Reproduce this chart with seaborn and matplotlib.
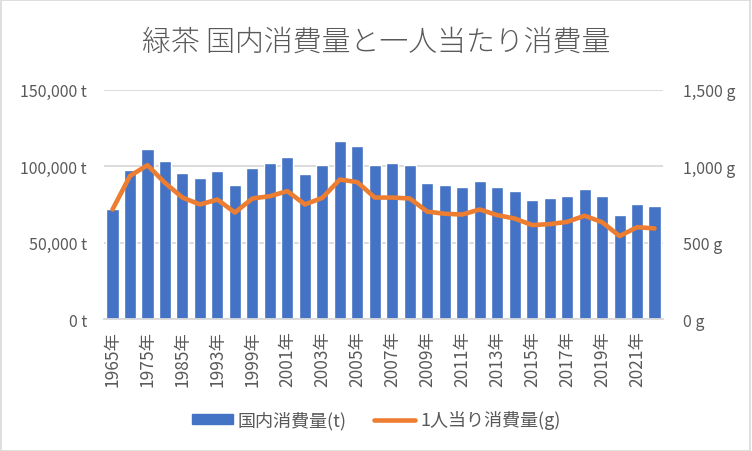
import numpy as np
import pandas as pd
import matplotlib
matplotlib.use("Agg")
import matplotlib.pyplot as plt
import seaborn as sns
from matplotlib.lines import Line2D
from matplotlib.patches import Patch, Rectangle
from matplotlib.ticker import FuncFormatter

# data
years = [1965, 1970, 1975, 1980, 1985, 1990, 1993, 1996,
         1999, 2000, 2001, 2002, 2003, 2004, 2005, 2006, 2007, 2008,
         2009, 2010, 2011, 2012, 2013, 2014, 2015, 2016, 2017, 2018,
         2019, 2020, 2021, 2022]
volume_t = [71700, 97800, 111600, 103700, 95900, 92600, 97200, 88000,
            99100, 102400, 106300, 94600, 101100, 116800, 113500, 101100, 101800, 100500,
            89300, 88000, 86700, 90600, 86100, 84100, 78200, 79500, 80800, 85400,
            80800, 67800, 75000, 73700]
per_capita_g = [717, 937, 1007, 891, 795, 750, 782, 697,
                789, 804, 837, 750, 793, 913, 896, 795, 795, 789,
                703, 689, 684, 717, 680, 658, 615, 621, 636, 676,
                634, 543, 601, 593]

title = "緑茶 国内消費量と一人当たり消費量"
bar_label = "国内消費量(t)"
line_label = "1人当り消費量(g)"

BLUE = "#4472C4"
ORANGE = "#ED7D31"
GRID = "#D9D9D9"
TEXT = "#595959"

sns.set_theme(style="white")
plt.rcParams["font.family"] = ["Noto Sans CJK JP", "DejaVu Sans"]

df = pd.DataFrame({
    "year": [f"{y}年" for y in years],
    "volume": volume_t,
    "per_capita": per_capita_g,
})

fig = plt.figure(figsize=(7.52, 4.52), dpi=100)
ax = fig.add_axes([0.138, 0.292, 0.744, 0.507])

sns.barplot(data=df, x="year", y="volume", color=BLUE, saturation=1,
            width=0.69, ax=ax, zorder=2)
ax.set_ylim(0, 150000)
ax.set_yticks([0, 50000, 100000, 150000])
ax.yaxis.set_major_formatter(FuncFormatter(lambda v, _: f"{int(v):,} t"))
ax.grid(axis="y", color=GRID, linewidth=1.3, zorder=0)
ax.set_axisbelow(True)
ax.set_xlabel("")
ax.set_ylabel("")

pos = np.arange(len(years))
ax.set_xticks(pos[::2])
ax.set_xticklabels(df["year"][::2], rotation=90)
ax.set_xlim(-0.5, len(years) - 0.5)

ax2 = ax.twinx()
sns.lineplot(x=pos, y=df["per_capita"], color=ORANGE, linewidth=3.3, ax=ax2)
ax2.set_ylim(0, 1500)
ax2.set_yticks([0, 500, 1000, 1500])
ax2.yaxis.set_major_formatter(FuncFormatter(lambda v, _: f"{int(v):,} g"))
ax2.set_ylabel("")

for a in (ax, ax2):
    for s in a.spines.values():
        s.set_visible(False)
    a.tick_params(length=0, colors=TEXT, labelsize=11.5)
ax.spines["bottom"].set_visible(True)
ax.spines["bottom"].set_color(GRID)
ax.spines["bottom"].set_linewidth(1.3)
ax.tick_params(axis="y", pad=12)
ax.tick_params(axis="x", pad=8, labelsize=12.5)
ax2.tick_params(axis="y", pad=14)

fig.text(0.5, 1 - 42 / 452, title, ha="center", va="center",
         fontsize=20.8, color=TEXT, fontweight="light")

handles = [Patch(facecolor=BLUE, edgecolor=BLUE),
           Line2D([0], [0], color=ORANGE, linewidth=3.3)]
fig.legend(handles, [bar_label, line_label], loc="center",
           bbox_to_anchor=(0.5, 1 - 421 / 452), ncol=2, frameon=False,
           fontsize=13, labelcolor=TEXT, handlelength=2.3, handleheight=0.45,
           columnspacing=1.5, handletextpad=0.25)

fig.patches.append(Rectangle((0.001, 0.001), 0.997, 0.997, transform=fig.transFigure,
                             fill=False, edgecolor=GRID, linewidth=1.2))

fig.savefig("out.png", dpi=100)
